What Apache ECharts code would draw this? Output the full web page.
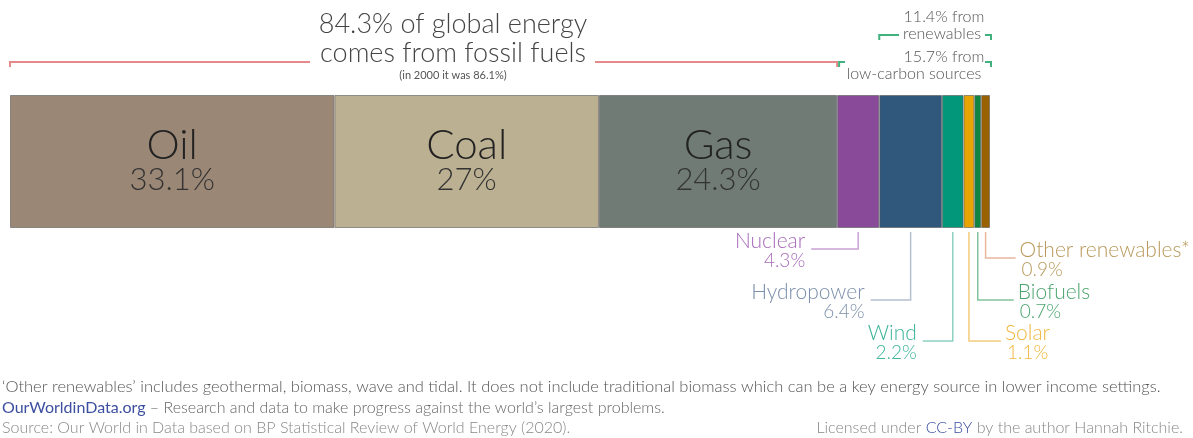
<!DOCTYPE html>
<html>
<head>
<meta charset="utf-8">
<script src="https://cdn.jsdelivr.net/npm/echarts@6/dist/echarts.min.js"></script>
<style>
  html, body { margin: 0; padding: 0; background: #fff; }
  #chart { width: 1193px; height: 438px; }
</style>
</head>
<body>
<div id="chart"></div>
<script>
// data
const categories = ['Oil', 'Coal', 'Gas', 'Nuclear', 'Hydropower', 'Wind', 'Solar', 'Biofuels', 'Other renewables*'];
const shares = [33.1, 27, 24.3, 4.3, 6.4, 2.2, 1.1, 0.7, 0.9];
const shareLabels = ['33.1%', '27%', '24.3%', '4.3%', '6.4%', '2.2%', '1.1%', '0.7%', '0.9%'];
const barColors = ['#9b8775', '#bcb092', '#6f7b74', '#884a99', '#30587c', '#02967a', '#e8a502', '#0f8541', '#9a6100'];
const labelColors = ['#333', '#333', '#333', '#a76bb8', '#7b8faa', '#3cb49a', '#efb83f', '#4ba56f', '#b8995a'];
const lineColors = ['', '', '', '#c9a1d4', '#b4c0cf', '#8dd1c1', '#f4cd7c', '#82c39b', '#e9b79e'];

const fossilNote = ['84.3% of global energy', 'comes from fossil fuels'];
const fossilSub = '(in 2000 it was 86.1%)';
const renewNote = ['11.4% from', 'renewables'];
const lowCarbonNote = ['15.7% from', 'low-carbon sources'];

// leader layout for the small segments: side, elbow y, arm length
const leaders = {
  3: { side: 'left', y: 249, arm: 47 },
  4: { side: 'left', y: 300, arm: 40 },
  5: { side: 'left', y: 341, arm: 30 },
  6: { side: 'right', y: 341, arm: 32 },
  7: { side: 'right', y: 300, arm: 36 },
  8: { side: 'right', y: 258, arm: 30 }
};

const FONT = 'Lato, "Open Sans", sans-serif';
const chart = echarts.init(document.getElementById('chart'));

chart.setOption({
  animation: false,
  grid: { left: 10, right: 203, top: 95, bottom: 210 },
  xAxis: { type: 'value', min: 0, max: 100, show: false },
  yAxis: { type: 'category', data: ['share'], show: false },
  series: categories.map((name, i) => ({
    type: 'bar',
    name: name,
    stack: 'total',
    barWidth: '100%',
    data: [shares[i]],
    itemStyle: { color: barColors[i], borderColor: 'rgba(90,90,90,0.6)', borderWidth: 1 },
    label: {
      show: i < 3,
      position: 'inside',
      formatter: '{a|' + name + '}\n{b|' + shareLabels[i] + '}',
      rich: {
        a: { fontFamily: FONT, fontWeight: 300, fontSize: 42, color: '#222', lineHeight: 36 },
        b: { fontFamily: FONT, fontWeight: 300, fontSize: 31, color: '#333', lineHeight: 32 }
      }
    }
  }))
});

// pixel positions from the axis
const px = v => chart.convertToPixel({ gridIndex: 0 }, [v, 'share'])[0];
const barTop = chart.convertToPixel({ gridIndex: 0 }, [0, 'share'])[1] - 66.5;
const barBottom = barTop + 133;
let cum = [0];
shares.forEach((s, i) => cum.push(cum[i] + s));

const g = [];
// leaders + labels below
Object.keys(leaders).forEach(k => {
  const i = +k, L = leaders[k];
  const cx = px(cum[i] + shares[i] / 2);
  const ex = L.side === 'left' ? cx - L.arm : cx + L.arm;
  g.push({ type: 'polyline', shape: { points: [[cx, barBottom + 4], [cx, L.y], [ex, L.y]] },
    style: { stroke: lineColors[i], lineWidth: 1.5, fill: null } });
  const tx = L.side === 'left' ? ex - 6 : ex + 4;
  const align = L.side === 'left' ? 'right' : 'left';
  g.push({ type: 'text', x: tx, y: L.y - 8, style: { text: categories[i], font: '300 21px ' + FONT, fill: labelColors[i], textAlign: align, textVerticalAlign: 'middle' } });
  g.push({ type: 'text', x: tx + (L.side === 'left' ? 0 : 2), y: L.y + 12, style: { text: shareLabels[i], font: '300 19px ' + FONT, fill: labelColors[i], textAlign: align, textVerticalAlign: 'middle' } });
});

// bracket helper: left stub and right stub with a gap for text
function bracket(x0, x1, y, gapL, gapR, color) {
  g.push({ type: 'polyline', shape: { points: [[x0, y + 5], [x0, y], [gapL, y]] }, style: { stroke: color, lineWidth: 2, fill: null } });
  g.push({ type: 'polyline', shape: { points: [[gapR, y], [x1, y], [x1, y + 5]] }, style: { stroke: color, lineWidth: 2, fill: null } });
}
const xFossilEnd = px(cum[3]);
bracket(px(0), xFossilEnd, 62, 310, 595, '#e58a8c');
bracket(xFossilEnd + 2, px(100) + 1, 62, 845, 985, '#3fb27d');
bracket(px(cum[4]), px(100) + 1, 35, 899, 985, '#3fb27d');

const textGray = '#444';
g.push({ type: 'text', x: 453, y: 24, style: { text: fossilNote[0], font: '300 27px ' + FONT, fill: textGray, textAlign: 'center', textVerticalAlign: 'middle' } });
g.push({ type: 'text', x: 453, y: 53, style: { text: fossilNote[1], font: '300 27px ' + FONT, fill: textGray, textAlign: 'center', textVerticalAlign: 'middle' } });
g.push({ type: 'text', x: 453, y: 75, style: { text: fossilSub, font: '11px ' + FONT, fill: '#555', textAlign: 'center', textVerticalAlign: 'middle' } });
g.push({ type: 'text', x: 944, y: 17, style: { text: renewNote[0], font: '300 16px ' + FONT, fill: '#555', textAlign: 'center', textVerticalAlign: 'middle' } });
g.push({ type: 'text', x: 942, y: 34, style: { text: renewNote[1], font: '300 16px ' + FONT, fill: '#555', textAlign: 'center', textVerticalAlign: 'middle' } });
g.push({ type: 'text', x: 944, y: 57, style: { text: lowCarbonNote[0], font: '300 16px ' + FONT, fill: '#555', textAlign: 'center', textVerticalAlign: 'middle' } });
g.push({ type: 'text', x: 914, y: 74, style: { text: lowCarbonNote[1], font: '300 16px ' + FONT, fill: '#555', textAlign: 'center', textVerticalAlign: 'middle' } });

// footer
const FOOT = '300 16px ' + FONT;
g.push({ type: 'text', x: 2, y: 387, style: { text: '\u2018Other renewables\u2019 includes geothermal, biomass, wave and tidal. It does not include traditional biomass which can be a key energy source in lower income settings.', font: '300 16.5px ' + FONT, fill: '#555', textVerticalAlign: 'middle' } });
g.push({ type: 'text', x: 2, y: 408, style: { rich: { o: { fill: '#3c4ea0', font: '16px ' + FONT }, r: { fill: '#666', font: FOOT } }, text: '{o|OurWorldinData.org}{r| \u2013 Research and data to make progress against the world\u2019s largest problems.}', textVerticalAlign: 'middle' } });
g.push({ type: 'text', x: 2, y: 428, style: { text: 'Source: Our World in Data based on BP Statistical Review of World Energy (2020).', font: FOOT, fill: '#888', textVerticalAlign: 'middle' } });
g.push({ type: 'text', x: 1183, y: 428, style: { rich: { r: { fill: '#888', font: FOOT }, c: { fill: '#3c4ea0', font: FOOT } }, text: '{r|Licensed under }{c|CC-BY}{r| by the author Hannah Ritchie.}', textAlign: 'right', textVerticalAlign: 'middle' } });

chart.setOption({ graphic: { elements: g } });
</script>
</body>
</html>
